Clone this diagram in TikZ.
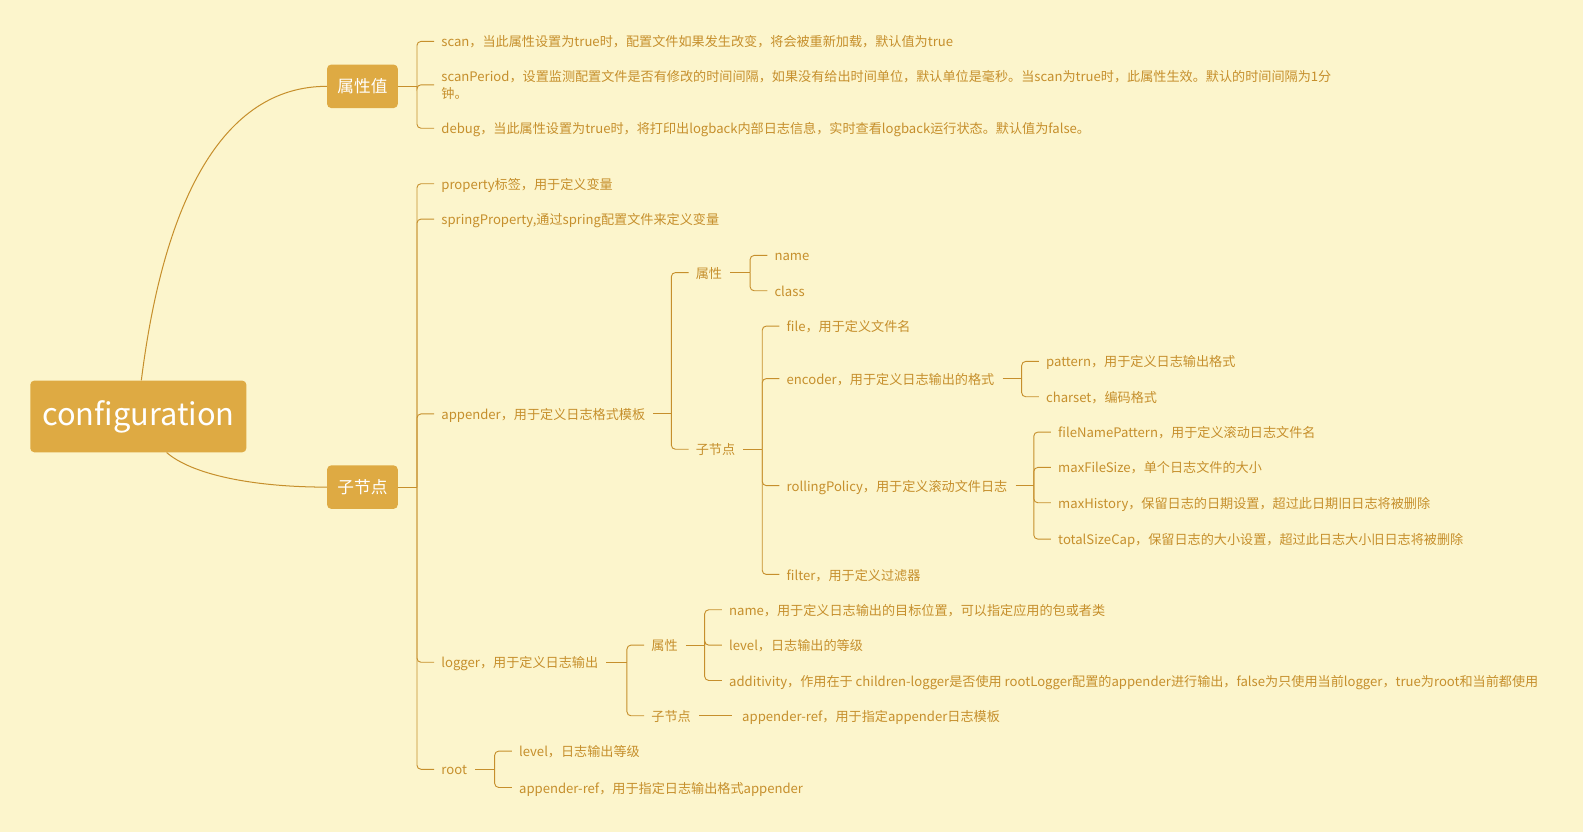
\documentclass[tikz,border=0pt]{standalone}
\usepackage{fontspec}
\newfontfamily\cjk{Noto Sans CJK SC}
\usetikzlibrary{calc}
\definecolor{cbg}{HTML}{FCF5CC}
\definecolor{cbox}{HTML}{DEAA43}
\definecolor{cink}{HTML}{C68F2C}
\tikzset{
  every picture/.style={x=1pt, y=-1pt},
  leaf/.style={anchor=west, inner sep=0pt, text height=12.5pt, text depth=1.5pt,
    text=cink, font=\cjk\fontsize{13}{17}\selectfont},
  topic/.style={fill=cbox, rounded corners=4pt, text=white, inner sep=0pt,
    minimum width=70pt, minimum height=43pt, font=\cjk\fontsize{16.5}{20}\selectfont},
  twig/.style={draw=cink, line width=0.9pt, rounded corners=4pt},
  limb/.style={draw=cink, line width=1pt},
}
\newcommand{\twigs}[3][8pt]{% parent stub, then one bracket arm per child
  \foreach \kid [count=\i] in {#3} {
    \ifnum\i=1 \draw[twig] ([xshift=#1]#2.east) -- ([xshift=-24pt]\kid.west |- #2.east);\fi
    \draw[twig] ([xshift=-24pt]\kid.west |- #2.east) |- ([xshift=-7pt]\kid.west);
  }}

\begin{document}
\begin{tikzpicture}
  \fill[cbg] (0,0) rectangle (1568,824);
  \node[topic, minimum width=214pt, minimum height=71pt, font=\cjk\fontsize{30.5}{36}\selectfont] (cfg) at (137,412.5) {configuration};
  \node[topic] (attr) at (359,85.5) {属性值};
  \node[topic] (kids) at (359,482.5) {子节点};
  \draw[limb] ([xshift=3pt]cfg.north) .. controls (162,200) and (220,85.5) .. (attr.west);
  \draw[limb] ([xshift=28pt]cfg.south) .. controls (190,470) and (250,482.5) .. (kids.west);

  \node[leaf] (scan) at (437,41) {scan，当此属性设置为true时，配置文件如果发生改变，将会被重新加载，默认值为true};
  \node[leaf, align=left, text height=, text depth=] (scanp) at (437,84) {scanPeriod，设置监测配置文件是否有修改的时间间隔，如果没有给出时间单位，默认单位是毫秒。当scan为true时，此属性生效。默认的时间间隔为1分\\钟。};
  \node[leaf] (debug) at (437,127) {debug，当此属性设置为true时，将打印出logback内部日志信息，实时查看logback运行状态。默认值为false。};

  \node[leaf] (prop) at (437,182) {property标签，用于定义变量};
  \node[leaf] (spring) at (437,217) {springProperty,通过spring配置文件来定义变量};
  \node[leaf] (app) at (437,410) {appender，用于定义日志格式模板};
  \node[leaf] (logger) at (437,656) {logger，用于定义日志输出};
  \node[leaf] (rootn) at (437,762) {root};

  \node[leaf] (appattr) at (689,270) {属性};
  \node[leaf] (name) at (767,253) {name};
  \node[leaf] (cls) at (767,288) {class};
  \node[leaf] (appkids) at (689,445) {子节点};
  \node[leaf] (file) at (779,323) {file，用于定义文件名};
  \node[leaf] (encoder) at (779,375) {encoder，用于定义日志输出的格式};
  \node[leaf] (pattern) at (1036,358) {pattern，用于定义日志输出格式};
  \node[leaf] (charset) at (1036,393) {charset，编码格式};
  \node[leaf] (rolling) at (779,481) {rollingPolicy，用于定义滚动文件日志};
  \node[leaf] (fnp) at (1048,428) {fileNamePattern，用于定义滚动日志文件名};
  \node[leaf] (mfs) at (1048,463) {maxFileSize，单个日志文件的大小};
  \node[leaf] (mh) at (1048,498) {maxHistory，保留日志的日期设置，超过此日期旧日志将被删除};
  \node[leaf] (tsc) at (1048,534) {totalSizeCap，保留日志的大小设置，超过此日志大小旧日志将被删除};
  \node[leaf] (filter) at (779,569) {filter，用于定义过滤器};

  \node[leaf] (logattr) at (645,639) {属性};
  \node[leaf] (lname) at (722,604) {name，用于定义日志输出的目标位置，可以指定应用的包或者类};
  \node[leaf] (llevel) at (722,639) {level，日志输出的等级};
  \node[leaf] (addv) at (722,674) {additivity，作用在于 children-logger是否使用 rootLogger配置的appender进行输出，false为只使用当前logger，true为root和当前都使用};
  \node[leaf] (logkids) at (645,709) {子节点};
  \node[leaf] (lref) at (735,709) {appender-ref，用于指定appender日志模板};

  \node[leaf] (rlevel) at (514,744) {level，日志输出等级};
  \node[leaf] (rref) at (514,780) {appender-ref，用于指定日志输出格式appender};

  \twigs[0pt]{attr}{scan,scanp,debug}
  \twigs[0pt]{kids}{prop,spring,app,logger,rootn}
  \twigs{app}{appattr,appkids}
  \twigs{appattr}{name,cls}
  \twigs{appkids}{file,encoder,rolling,filter}
  \twigs{encoder}{pattern,charset}
  \twigs{rolling}{fnp,mfs,mh,tsc}
  \twigs{logger}{logattr,logkids}
  \twigs{logattr}{lname,llevel,addv}
  \draw[twig] ([xshift=8pt]logkids.east) -- ([xshift=-10pt]lref.west);
  \twigs{rootn}{rlevel,rref}
\end{tikzpicture}
\end{document}
